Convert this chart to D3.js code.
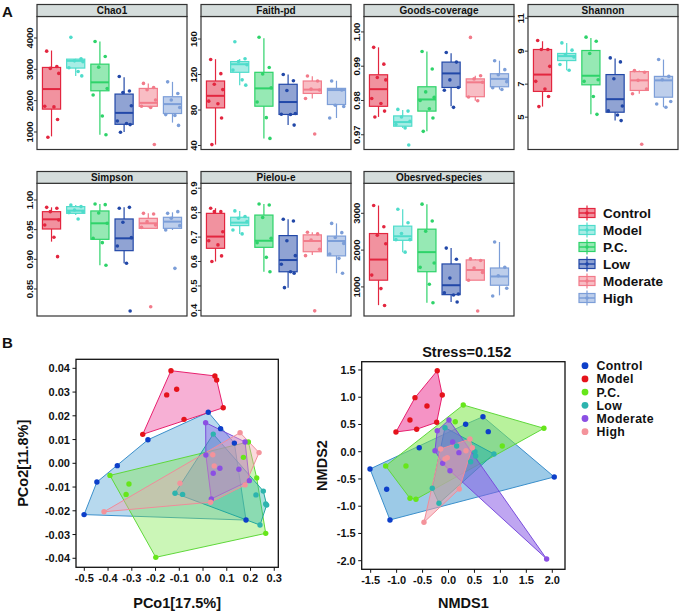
<!DOCTYPE html>
<html><head><meta charset="utf-8">
<script src="https://cdn.jsdelivr.net/npm/d3@7"></script>
<style>body{margin:0;background:#fff;} text{font-family:"Liberation Sans",Arial,sans-serif;font-weight:bold;fill:#111;}</style>
</head><body><svg id="c" width="683" height="613"></svg>
<script>
const groups = ["Control","Model","P.C.","Low","Moderate","High"];

// ---- Panel A: alpha diversity (box stats [lo,q1,median,q3,hi]) ----
const chao1Box = [[860,1730,2370,3060,3600],[2790,3040,3270,3325,3340],[910,2315,2585,3165,3890],[1000,1245,1610,2210,2750],[1780,1820,1930,2390,2550],[1300,1590,1890,2125,2600]];
const chao1Pts = [[3580,3090,3030,2870,1820,1800,1400,830],[4020,3335,3270,3240,3050,2930,2790],[3890,3410,3070,2390,2180,1510,910],[2770,2310,2260,1835,1350,1270,1235,990],[2550,2420,2350,2020,1820,1780,600],[2600,2230,2020,1780,1555,1530,1210]];
const chao1Ticks = [1000,2000,3000,4000];
const chao1Domain = [441,4686];

const faithBox = [[41,82.4,96,112.7,137.3],[108,122.5,131.6,134.6,137.5],[48,84.3,104.4,122.5,161],[63,75,89,109,120],[93,98.7,103,112.7,118],[71,86.2,102.5,104.4,113]];
const faithPts = [[137,121,109,103,90,87,71,41],[157,137.7,134.6,131,125,114,108],[162,128,120.6,105,89,71.4,48],[120,113,102,76,75.2,75,63],[118.4,112.7,103.6,102.5,93,53],[112.7,102.5,85.4,84,71]];
const faithTicks = [40,80,120,160];
const faithDomain = [35.5,185.4];

const goodsBox = [[0.9752,0.9783,0.9833,0.9875,0.9955],[0.9720,0.9725,0.9737,0.9755,0.9772],[0.971,0.9769,0.9803,0.984,0.9943],[0.9783,0.9838,0.9879,0.9912,0.9938],[0.9799,0.9811,0.9853,0.9863,0.9872],[0.9832,0.984,0.9863,0.9878,0.9916]];
const goodsPts = [[0.9955,0.9906,0.9867,0.986,0.9806,0.9791,0.9769,0.9752],[0.9774,0.9769,0.9752,0.9739,0.973,0.972,0.967],[0.9943,0.9892,0.9825,0.9809,0.98,0.9776,0.9749,0.971],[0.994,0.9912,0.986,0.9838,0.983,0.978],[0.9984,0.9872,0.9863,0.9853,0.981,0.9799],[0.9916,0.989,0.9875,0.9855,0.9837,0.9832]];
const goodsTicks = [0.97,0.98,0.99,1.00];
const goodsDomain = [0.9657,1.0045];

const shannonBox = [[5.64,6.56,7.58,9.1,9.6],[7.84,8.43,8.7,8.86,9.5],[5.17,6.96,7.51,9.04,9.8],[4.79,5.3,6.09,7.58,8.55],[6.42,6.62,7.23,7.76,7.82],[5.6,6.21,7.23,7.47,8.49]];
const shannonPts = [[9.65,9.1,9.1,8.08,7.17,6.7,6.25,5.64],[9.5,9.06,8.8,8.65,8.19,7.84],[9.85,9.6,8.86,7.27,7.17,6.25,5.17],[8.59,8.35,7.33,5.68,5.38,5.13,4.79],[7.82,7.72,7.23,6.7,6.42,3.36],[8.49,7.47,7.27,5.95,5.8,5.6]];
const shannonTicks = [5,7,9,11];
const shannonDomain = [3.04,11.1];

const simpsonBox = [[0.9298,0.9511,0.9674,0.9803,0.9876],[0.9747,0.9775,0.982,0.9888,0.9916],[0.8899,0.9337,0.9607,0.9815,0.9933],[0.8933,0.9146,0.9354,0.968,0.9876],[0.9522,0.9522,0.9607,0.9691,0.9775],[0.9494,0.9522,0.9635,0.9708,0.9792]];
const simpsonPts = [[0.9876,0.986,0.9803,0.9663,0.9579,0.9371,0.9045],[0.9916,0.9888,0.9831,0.9803,0.9787,0.968],[0.9933,0.9921,0.9781,0.9607,0.9354,0.9281,0.8899],[0.986,0.9876,0.9624,0.9365,0.9225,0.8933,0.813],[0.9775,0.9764,0.9635,0.9579,0.9539,0.82],[0.9775,0.9803,0.9691,0.9567,0.9494,0.8848]];
const simpsonTicks = [0.85,0.90,0.95,1.00];
const simpsonDomain = [0.8045,1.0281];

const pielouBox = [[0.6,0.654,0.702,0.797,0.818],[0.713,0.747,0.759,0.781,0.807],[0.558,0.658,0.685,0.79,0.835],[0.493,0.558,0.606,0.706,0.773],[0.627,0.64,0.684,0.709,0.72],[0.552,0.623,0.684,0.704,0.756]];
const pielouPts = [[0.818,0.804,0.804,0.722,0.685,0.668,0.623,0.6],[0.807,0.784,0.777,0.763,0.729,0.713],[0.835,0.831,0.78,0.695,0.677,0.617,0.558],[0.773,0.766,0.685,0.624,0.589,0.558,0.552,0.493],[0.72,0.713,0.688,0.65,0.624,0.398],[0.756,0.718,0.698,0.674,0.631,0.613,0.552]];
const pielouTicks = [0.4,0.5,0.6,0.7,0.8,0.9];
const pielouDomain = [0.377,0.920];

const obsBox = [[505,1183,1743,2450,3211],[1945,2266,2376,2651,3110],[569,1413,1945,2569,3248],[590,790,1046,1624,2055],[1183,1183,1459,1734,1761],[771,1046,1284,1514,2220]];
const obsPts = [[3211,2633,2404,2174,1321,954,495],[3110,2743,2450,2284,2284,1945],[3248,2789,2514,1651,1532,1073,569],[2055,1752,1239,807,840,780,590],[1761,1716,1514,1395,1183,346],[2220,1532,1303,963,752]];
const obsTicks = [1000,2000,3000];
const obsDomain = [210,3815];

// ---- Panel B: PCoA and NMDS coordinates, per group ----
const pcoaControl = [[0.022,0.0215],[0.074,0.0146],[0.132,0.0085],[0.181,-0.0239],[-0.232,0.0099],[-0.361,-0.001],[-0.447,-0.0079],[-0.501,-0.0216]];
const pcoaModel = [[-0.135,0.039],[0.050,0.0368],[0.0575,0.0351],[-0.111,0.0312],[-0.153,0.0288],[0.085,0.0234],[-0.080,0.0185],[-0.254,0.0122]];
const pcoaPC = [[-0.392,-0.0051],[-0.312,-0.0087],[-0.324,-0.0131],[-0.199,-0.0396],[0.264,-0.0295],[0.226,-0.0062],[0.191,0.0090],[0.170,0.0025]];
const pcoaLow = [[0.043,0.0123],[-0.118,-0.0126],[-0.086,-0.0131],[0.223,-0.0133],[0.254,-0.0117],[0.268,-0.0176],[0.264,-0.0171],[0.240,-0.026]];
const pcoaModerate = [[0.011,0.0171],[0.177,0.009],[0.012,0.0035],[0.071,-0.0021],[0.043,-0.0042],[0.151,-0.0025],[0.195,-0.0073],[0.035,-0.015]];
const pcoaHigh = [[0.156,0.0129],[0.236,0.0045],[0.041,0.0036],[0.047,-0.0011],[-0.097,-0.0084],[0.177,-0.0091],[0.032,-0.0164],[-0.417,-0.0204]];
const pcoaXTicks = [-0.5,-0.4,-0.3,-0.2,-0.1,0.0,0.1,0.2,0.3];
const pcoaYTicks = [-0.04,-0.03,-0.02,-0.01,0.00,0.01,0.02,0.03,0.04];

const nmdsControl = [[0.664,0.643],[0.33,0.504],[0.766,0.368],[-0.564,0.074],[-1.513,-0.317],[-1.192,-0.689],[-1.128,-1.252],[2.038,-0.463]];
const nmdsModel = [[-0.217,1.487],[-0.12,1.041],[-0.646,0.992],[-0.415,0.839],[-0.743,0.583],[-0.228,0.54],[-0.614,0.412],[-1.013,0.362]];
const nmdsPC = [[0.284,0.858],[0.13,0.551],[1.839,0.43],[1.036,0.106],[-1.211,-0.261],[-0.82,-0.261],[-0.743,-0.854],[-0.627,-0.872]];
const nmdsLow = [[-0.068,0.441],[0.157,0.106],[0.51,0.001],[0.876,-0.041],[0.523,-0.078],[0.427,-0.183],[-0.313,-0.671],[-0.184,-0.946]];
const nmdsModerate = [[0.009,0.583],[-0.217,0.386],[0.08,0.179],[-0.261,0.019],[0.201,-0.017],[-0.113,-0.212],[0.028,-0.348],[1.891,-1.968]];
const nmdsHigh = [[0.413,0.234],[-0.151,0.05],[0.458,0.074],[0.336,0.019],[-0.024,-0.11],[-0.068,-0.133],[0.207,-0.684],[-0.473,-1.295]];
const nmdsXTicks = [-1.5,-1.0,-0.5,0.0,0.5,1.0,1.5,2.0];
const nmdsYTicks = [-2.0,-1.5,-1.0,-0.5,0.0,0.5,1.0,1.5];

// ---------------- drawing ----------------
const svg = d3.select("#c");
const colA = ["#E3263F","#4FDCCB","#2ED36A","#2248A8","#F27B8A","#7C9ED8"];
const jit = [-0.2,0.22,-0.05,0.3,-0.28,0.1,0.25,-0.15];
const f2 = v => v.toFixed(2), f1 = v => v.toFixed(1), f0 = v => String(v);

const panels = [
  {name:"Chao1", box:chao1Box, pts:chao1Pts, ticks:chao1Ticks, dom:chao1Domain, fmt:f0, col:0, row:0},
  {name:"Faith-pd", box:faithBox, pts:faithPts, ticks:faithTicks, dom:faithDomain, fmt:f0, col:1, row:0},
  {name:"Goods-coverage", box:goodsBox, pts:goodsPts, ticks:goodsTicks, dom:goodsDomain, fmt:f2, col:2, row:0},
  {name:"Shannon", box:shannonBox, pts:shannonPts, ticks:shannonTicks, dom:shannonDomain, fmt:f0, col:3, row:0},
  {name:"Simpson", box:simpsonBox, pts:simpsonPts, ticks:simpsonTicks, dom:simpsonDomain, fmt:f2, col:0, row:1},
  {name:"Pielou-e", box:pielouBox, pts:pielouPts, ticks:pielouTicks, dom:pielouDomain, fmt:f1, col:1, row:1},
  {name:"Obesrved-species", box:obsBox, pts:obsPts, ticks:obsTicks, dom:obsDomain, fmt:f0, col:2, row:1}
];
const lefts = [37,201,364,528], W = 150;
const rows = [{s:4.5,t:16.5,b:149.5},{s:171.5,t:183.3,b:316}];

panels.forEach(p => {
  const L = lefts[p.col], R = L + W, r = rows[p.row];
  const g = svg.append("g");
  const y = d3.scaleLinear().domain(p.dom).range([r.b, r.t]);
  const x = d3.scalePoint().domain(groups).range([L, R]).padding(0.6);
  const step = x.step(), hw = step * 0.375;
  g.append("rect").attr("x",L).attr("y",r.t).attr("width",W).attr("height",r.b-r.t).attr("fill","#fff");
  p.ticks.forEach(t => {
    const yy = y(t);
    g.append("line").attr("x1",L-3).attr("x2",L).attr("y1",yy).attr("y2",yy).attr("stroke","#333");
    g.append("text").attr("transform",`translate(${L-4.5},${yy}) rotate(-90)`).attr("text-anchor","middle")
      .attr("font-size",9.5).text(p.fmt(t));
  });
  groups.forEach((gn,i) => {
    const b = p.box[i], cx = x(gn), c = colA[i];
    g.append("line").attr("x1",cx).attr("x2",cx).attr("y1",y(b[0])).attr("y2",y(b[1])).attr("stroke",c).attr("stroke-width",1.2);
    g.append("line").attr("x1",cx).attr("x2",cx).attr("y1",y(b[3])).attr("y2",y(b[4])).attr("stroke",c).attr("stroke-width",1.2);
    g.append("rect").attr("x",cx-hw).attr("y",y(b[3])).attr("width",2*hw).attr("height",y(b[1])-y(b[3]))
      .attr("fill",c).attr("fill-opacity",0.5).attr("stroke",c).attr("stroke-width",1.2);
    g.append("line").attr("x1",cx-hw).attr("x2",cx+hw).attr("y1",y(b[2])).attr("y2",y(b[2])).attr("stroke",c).attr("stroke-width",2);
  });
  groups.forEach((gn,i) => {
    p.pts[i].forEach((v,j) => {
      g.append("circle").attr("cx",x(gn)+jit[j%jit.length]*step).attr("cy",y(v)).attr("r",1.8).attr("fill",colA[i]);
    });
  });
  g.append("rect").attr("x",L).attr("y",r.t).attr("width",W).attr("height",r.b-r.t).attr("fill","none").attr("stroke","#333").attr("stroke-width",1.2);
  g.append("rect").attr("x",L).attr("y",r.s).attr("width",W).attr("height",r.t-r.s).attr("fill","#D5DDDC").attr("stroke","#333").attr("stroke-width",1.2);
  g.append("text").attr("x",L+W/2).attr("y",(r.s+r.t)/2+3.6).attr("text-anchor","middle").attr("font-size",10).text(p.name);
});

// legend A
groups.forEach((gn,i) => {
  const cy = 213 + i*17, cx = 587, c = colA[i];
  const g = svg.append("g");
  g.append("line").attr("x1",cx).attr("x2",cx).attr("y1",cy-7.5).attr("y2",cy+7.5).attr("stroke",c).attr("stroke-width",1.2);
  g.append("rect").attr("x",cx-8).attr("y",cy-4.5).attr("width",16).attr("height",9).attr("fill",c).attr("fill-opacity",0.5).attr("stroke",c).attr("stroke-width",1.2);
  g.append("line").attr("x1",cx-8).attr("x2",cx+8).attr("y1",cy).attr("y2",cy).attr("stroke",c).attr("stroke-width",1.5);
  g.append("circle").attr("cx",cx).attr("cy",cy).attr("r",1.8).attr("fill",c);
  g.append("text").attr("x",603).attr("y",cy+4.7).attr("font-size",13.5).text(gn);
});

svg.append("text").attr("x",2).attr("y",17).attr("font-size",15).text("A");
svg.append("text").attr("x",2).attr("y",348).attr("font-size",15).text("B");

// ---- B ----
const ptCol = ["#0D3FC9","#E5131B","#66E61A","#2DB4AE","#8B4FE3","#F4939B"];
const hullCol = ["#4A9FD4","#EC3A96","#7DE84A","#2BB5AA","#8A5CE6","#F4A0AC"];
const hullStroke = ["#3B8FCB","#E8206E","#5FD83A","#22A89E","#7A4EDC","#F08C9A"];

function ordPlot(cfg) {
  const x = d3.scaleLinear().domain(cfg.xd).range([cfg.L, cfg.R]);
  const y = d3.scaleLinear().domain(cfg.yd).range([cfg.B, cfg.T]);
  const g = svg.append("g");
  cfg.sets.forEach((s,i) => {
    const px = s.map(d => [x(d[0]), y(d[1])]);
    const hull = d3.polygonHull(px);
    g.append("path").attr("d","M"+hull.join("L")+"Z").attr("fill",hullCol[i]).attr("fill-opacity",cfg.op)
      .attr("stroke",hullStroke[i]).attr("stroke-width",1);
  });
  cfg.sets.forEach((s,i) => {
    s.forEach(d => g.append("circle").attr("cx",x(d[0])).attr("cy",y(d[1])).attr("r",2.7).attr("fill",ptCol[i]));
  });
  g.append("rect").attr("x",cfg.L).attr("y",cfg.T).attr("width",cfg.R-cfg.L).attr("height",cfg.B-cfg.T)
    .attr("fill","none").attr("stroke","#111").attr("stroke-width",1.3);
  cfg.xt.forEach(t => {
    g.append("line").attr("x1",x(t)).attr("x2",x(t)).attr("y1",cfg.B).attr("y2",cfg.B+3.5).attr("stroke","#111");
    g.append("text").attr("x",x(t)).attr("y",cfg.B+14.5).attr("text-anchor","middle").attr("font-size",11).text(cfg.xf(t));
  });
  cfg.yt.forEach(t => {
    g.append("line").attr("x1",cfg.L-3.5).attr("x2",cfg.L).attr("y1",y(t)).attr("y2",y(t)).attr("stroke","#111");
    g.append("text").attr("x",cfg.L-6).attr("y",y(t)+4).attr("text-anchor","end").attr("font-size",11).text(cfg.yf(t));
  });
  g.append("text").attr("x",(cfg.L+cfg.R)/2).attr("y",608).attr("text-anchor","middle").attr("font-size",14.5).text(cfg.xl);
  g.append("text").attr("transform",`translate(${cfg.yx},${(cfg.T+cfg.B)/2}) rotate(-90)`).attr("text-anchor","middle").attr("font-size",14.5).text(cfg.yl);
}

ordPlot({L:76,R:278.3,T:359.3,B:567.3,xd:[-0.535,0.317],yd:[-0.0438,0.0438],
  sets:[pcoaControl,pcoaModel,pcoaPC,pcoaLow,pcoaModerate,pcoaHigh], op:0.4,
  xt:pcoaXTicks, yt:pcoaYTicks, xf:f1, yf:f2, xl:"PCo1[17.5%]", yl:"PCo2[11.8%]", yx:28});

ordPlot({L:361.7,R:565,T:361.7,B:569.3,xd:[-1.673,2.245],yd:[-2.158,1.652],
  sets:[nmdsControl,nmdsModel,nmdsPC,nmdsLow,nmdsModerate,nmdsHigh], op:0.55,
  xt:nmdsXTicks, yt:nmdsYTicks, xf:f1, yf:f1, xl:"NMDS1", yl:"NMDS2", yx:327});

svg.append("text").attr("x",466.7).attr("y",357).attr("text-anchor","middle").attr("font-size",14.5).text("Stress=0.152");

groups.forEach((gn,i) => {
  const cy = 365.7 + i*13.2;
  svg.append("circle").attr("cx",585).attr("cy",cy).attr("r",3.4).attr("fill",ptCol[i]);
  svg.append("text").attr("x",596.5).attr("y",cy+4.5).attr("font-size",12.3).attr("letter-spacing",0.35).text(gn);
});
</script></body></html>
